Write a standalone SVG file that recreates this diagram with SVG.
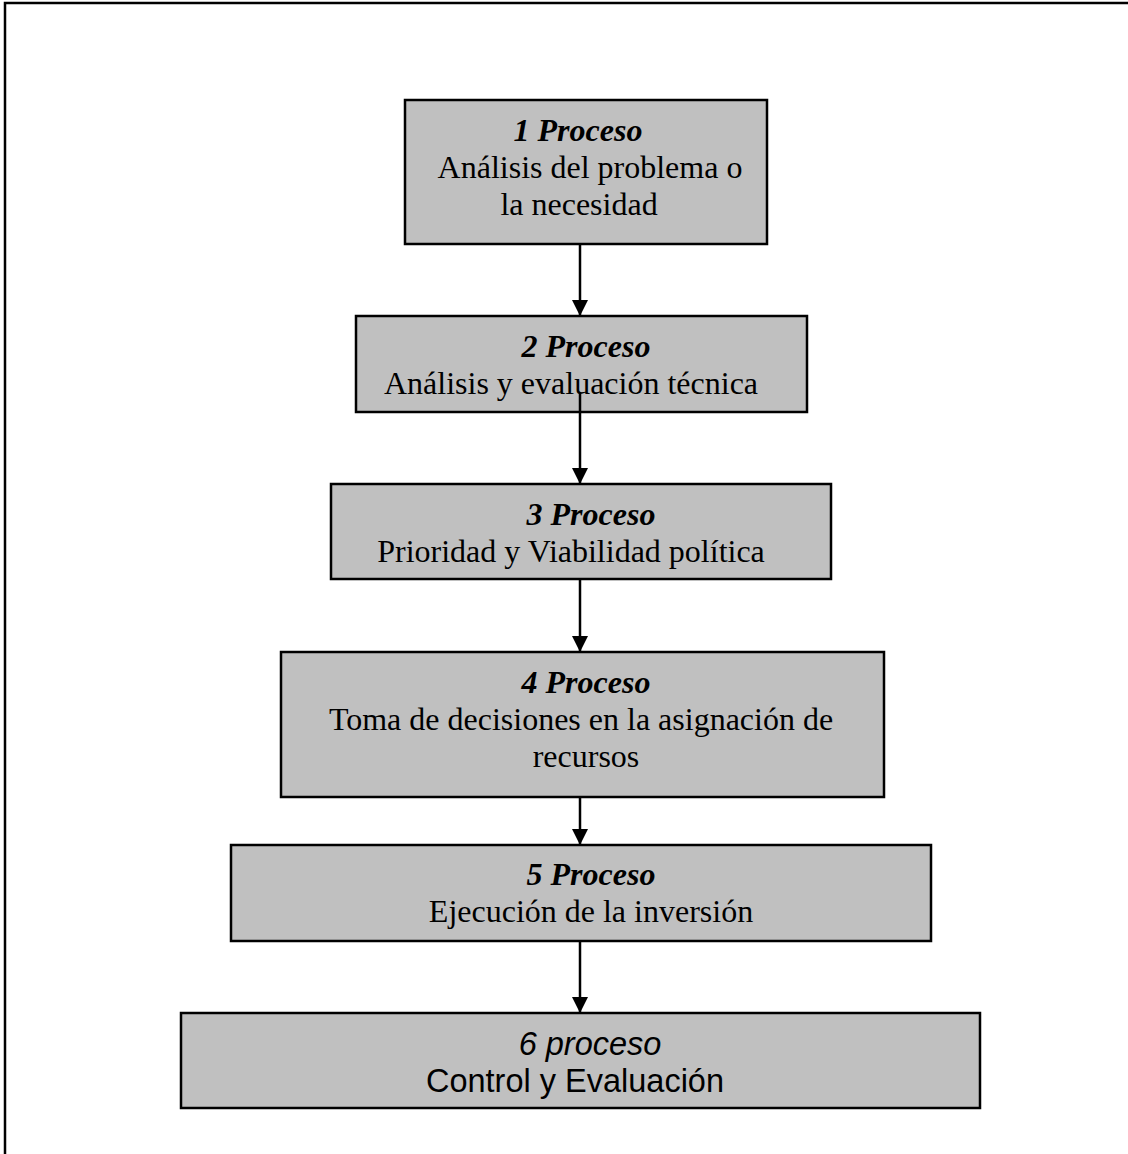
<svg xmlns="http://www.w3.org/2000/svg" width="1128" height="1154" viewBox="0 0 1128 1154">
  <style>
    .box { fill: #c0c0c0; stroke: #000; stroke-width: 2.5; }
    .frame { fill: none; stroke: #000; stroke-width: 2.5; }
    .t { font-family: "Liberation Serif", "Times New Roman", serif; font-size: 32px; fill: #000; text-anchor: middle; }
    .h { font-weight: bold; font-style: italic; }
    .a { font-family: "Liberation Sans", Arial, sans-serif; font-size: 32.5px; fill: #000; text-anchor: middle; }
    .ai { font-style: italic; }
    .conn { stroke: #000; stroke-width: 2.5; fill: none; marker-end: url(#arrow); }
  </style>
  <defs>
    <marker id="arrow" viewBox="0 0 16 16" refX="16" refY="8" markerWidth="16" markerHeight="16" markerUnits="userSpaceOnUse" orient="auto">
      <path d="M0,0 L16,8 L0,16 Z" fill="#000"/>
    </marker>
  </defs>

  <rect width="1128" height="1154" fill="#fff"/>
  <!-- page frame, open at the right and bottom -->
  <path class="frame" d="M5,1154 V3 H1128"/>

  <g id="connectors">
    <line class="conn" x1="580" y1="244" x2="580" y2="316"/>
    <line class="conn" x1="580" y1="393" x2="580" y2="484"/>
    <line class="conn" x1="580" y1="579" x2="580" y2="652"/>
    <line class="conn" x1="580" y1="797" x2="580" y2="845"/>
    <line class="conn" x1="580" y1="941" x2="580" y2="1013"/>
  </g>

  <g id="proceso1">
    <rect class="box" x="405" y="100" width="362" height="144"/>
    <text class="t h" x="578" y="141">1 Proceso</text>
    <text class="t" x="590" y="178">Análisis del problema o</text>
    <text class="t" x="579" y="215">la necesidad</text>
  </g>

  <g id="proceso2">
    <rect class="box" x="356" y="316" width="451" height="96"/>
    <text class="t h" x="586" y="357">2 Proceso</text>
    <text class="t" x="571" y="394">Análisis y evaluación técnica</text>
  </g>
  <!-- the second connector starts inside box 2 and crosses its text -->
  <line x1="580" y1="393" x2="580" y2="412" stroke="#000" stroke-width="2.5"/>

  <g id="proceso3">
    <rect class="box" x="331" y="484" width="500" height="95"/>
    <text class="t h" x="591" y="525">3 Proceso</text>
    <text class="t" x="571" y="562">Prioridad y Viabilidad política</text>
  </g>

  <g id="proceso4">
    <rect class="box" x="281" y="652" width="603" height="145"/>
    <text class="t h" x="586" y="693">4 Proceso</text>
    <text class="t" x="581" y="730">Toma de decisiones en la asignación de</text>
    <text class="t" x="586" y="767">recursos</text>
  </g>

  <g id="proceso5">
    <rect class="box" x="231" y="845" width="700" height="96"/>
    <text class="t h" x="591" y="885">5 Proceso</text>
    <text class="t" x="591" y="922">Ejecución de la inversión</text>
  </g>

  <g id="proceso6">
    <rect class="box" x="181" y="1013" width="799" height="95"/>
    <text class="a ai" x="590" y="1055">6 proceso</text>
    <text class="a" x="575" y="1092">Control y Evaluación</text>
  </g>
</svg>
